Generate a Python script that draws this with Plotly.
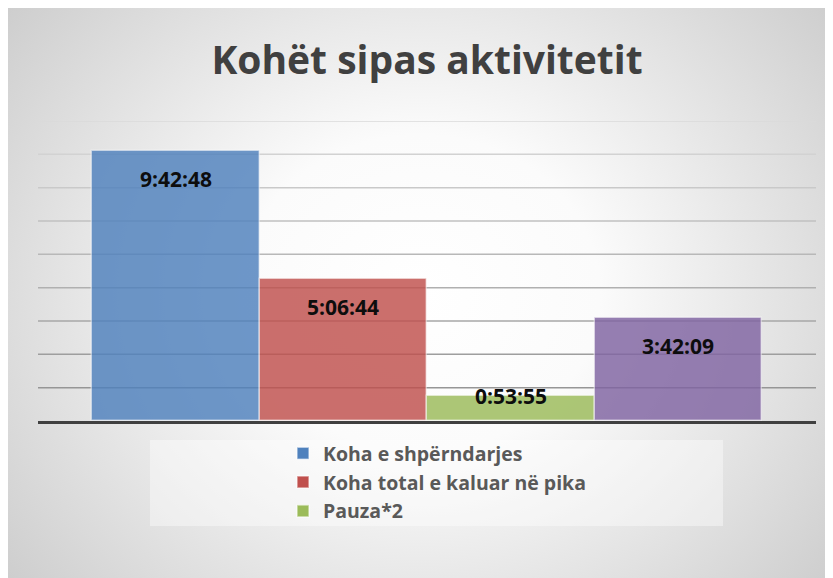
import urllib.parse
import numpy as np
import plotly.graph_objects as go

# ---- data ----
series_names = ["Koha e shpërndarjes", "Koha total e kaluar në pika", "Pauza*2", "Seria 4"]
time_labels = ["9:42:48", "5:06:44", "0:53:55", "3:42:09"]
show_in_legend = [True, True, True, False]
bar_colors = ["#4F81BD", "#C0504D", "#9BBB59", "#8064A2"]


def to_hours(s):
    h, m, sec = (int(p) for p in s.split(":"))
    return h + m / 60 + sec / 3600


values_h = [to_hours(t) for t in time_labels]

# ---- layout geometry ----
W, H = 825, 570
L, R, T, B = 30, 17, 113, 157
plot_w = W - L - R
plot_h = H - T - B
y_max = 10.8  # 0.45 day
tick_step = 1.2  # 0.05 day
pad = 0.3224  # outer gap, in bar widths

fig = go.Figure()
for name, v, lab, c, sl in zip(series_names, values_h, time_labels, bar_colors, show_in_legend):
    fig.add_trace(go.Bar(
        x=[name], y=[v], name=name, showlegend=sl, legendgroup=name,
        marker=dict(color=c, opacity=0.82, line=dict(color="rgba(255,255,255,0.55)", width=1.5)),
        hoverinfo="skip",
    ))
    bar_px = v / y_max * plot_h
    fig.add_annotation(
        x=name, y=v, xref="x", yref="y", text="<b>" + lab + "</b>", showarrow=False,
        yanchor="middle", yshift=-28 if bar_px > 40 else 0,
        font=dict(family="Open Sans", size=21, color="#0D0D0D"),
    )

# gridlines with a light-to-dark gradient
ticks = np.arange(tick_step, y_max + 1e-9, tick_step)
n = len(ticks)
for i, t in enumerate(ticks):
    f = i / (n - 1)
    g = int(round(0x96 + (0xDA - 0x96) * f))
    fig.add_shape(type="line", xref="paper", yref="y", x0=0, x1=1, y0=t, y1=t,
                  line=dict(color=f"rgb({g},{g},{g})", width=1.5), layer="below")

# radial gradient background of the whole chart
svg = ("<svg xmlns='http://www.w3.org/2000/svg' width='825' height='570' preserveAspectRatio='none'>"
       "<defs><radialGradient id='g' cx='0.5' cy='0.5' r='0.5' "
       "gradientTransform='translate(0.5,0.5) scale(1.45,1.85) translate(-0.5,-0.5)'>"
       "<stop offset='0' stop-color='#ffffff'/><stop offset='0.3' stop-color='#fbfbfb'/>"
       "<stop offset='1' stop-color='#c4c4c4'/></radialGradient></defs>"
       "<rect x='0' y='0' width='825' height='570' fill='url(#g)'/></svg>")
src = "data:image/svg+xml;charset=utf-8," + urllib.parse.quote(svg)
fig.add_layout_image(
    source=src, xref="paper", yref="paper",
    x=-L / plot_w, y=(H - B) / plot_h,
    sizex=W / plot_w, sizey=H / plot_h,
    xanchor="left", yanchor="top", sizing="stretch", layer="below",
)

# legend backdrop
lx0, ly0, lx1, ly1 = 142, 432, 715, 518
fig.add_shape(type="rect", xref="paper", yref="paper",
              x0=(lx0 - L) / plot_w, x1=(lx1 - L) / plot_w,
              y0=(H - B - ly0) / plot_h, y1=(H - B - ly1) / plot_h,
              fillcolor="rgba(255,255,255,0.4)", line=dict(width=0), layer="below")

fig.update_layout(
    width=W, height=H, autosize=False,
    margin=dict(l=L, r=R, t=T, b=B, pad=0),
    paper_bgcolor="#e6e6e6", plot_bgcolor="rgba(0,0,0,0)",
    barmode="overlay", bargap=0,
    title=dict(text="<b>Kohët sipas aktivitetit</b>", x=419 / W, xanchor="center",
               y=1 - 52 / H, yanchor="middle", xref="container", yref="container",
               font=dict(family="Open Sans", size=39, color="#404040")),
    xaxis=dict(type="category", categoryorder="array", categoryarray=series_names,
               range=[-0.5 - pad, len(series_names) - 0.5 + pad],
               showticklabels=False, ticks="", showgrid=False, zeroline=False,
               showline=True, linecolor="#404040", linewidth=3),
    yaxis=dict(range=[0, y_max], showgrid=False, zeroline=False, showticklabels=False,
               ticks="", showline=False),
    legend=dict(x=(275 - L) / plot_w, xanchor="left", y=(H - B - 426) / plot_h, yanchor="top",
                bgcolor="rgba(0,0,0,0)", borderwidth=0, traceorder="grouped",
                tracegroupgap=0.5,
                font=dict(family="Open Sans", size=19.5, color="#595959", weight="bold")),
    showlegend=True,
)

fig.write_html("out.html")
